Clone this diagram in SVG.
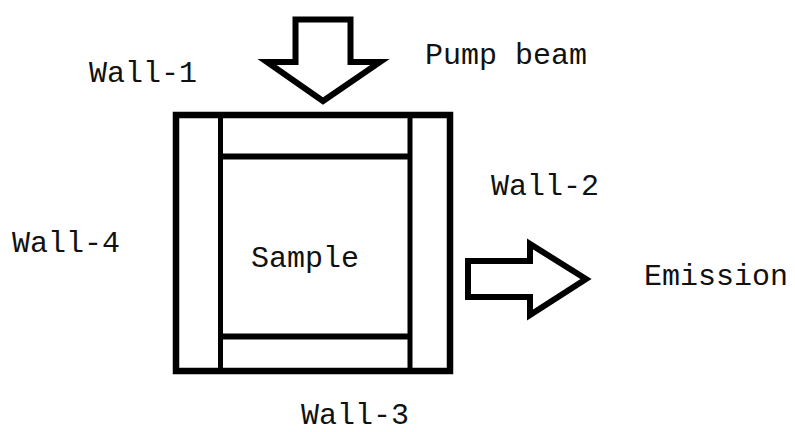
<svg xmlns="http://www.w3.org/2000/svg" width="795" height="432" viewBox="0 0 795 432">
<style>
.ln{fill:none;stroke:#000;stroke-linejoin:miter}
.lb{font-family:"Liberation Mono","Courier New",monospace;font-size:30px;fill:#111}
</style>
<rect width="795" height="432" fill="#fff"/>
<g id="cell">
<rect class="ln" x="176" y="115" width="274" height="256" stroke-width="6.5"/>
<line class="ln" x1="220.5" y1="115" x2="220.5" y2="371" stroke-width="5"/>
<line class="ln" x1="410" y1="115" x2="410" y2="371" stroke-width="5"/>
<line class="ln" x1="220" y1="156.5" x2="410" y2="156.5" stroke-width="6"/>
<line class="ln" x1="220" y1="336.5" x2="410" y2="336.5" stroke-width="6"/>
</g>
<g id="pump-arrow">
<polygon class="ln" stroke-width="6" points="295.5,19.5 350.5,19.5 350.5,62 380,62 323,101 267,62 295.5,62"/>
</g>
<g id="emission-arrow">
<polygon class="ln" stroke-width="6" points="468,261 530,261 530,244 586,279 530,315 530,297 468,297"/>
</g>
<g id="labels">
<text class="lb" x="89" y="82">Wall-1</text>
<text class="lb" x="425" y="64">Pump beam</text>
<text class="lb" x="491" y="195">Wall-2</text>
<text class="lb" x="12" y="252">Wall-4</text>
<text class="lb" x="251" y="267">Sample</text>
<text class="lb" x="644" y="285">Emission</text>
<text class="lb" x="301" y="424">Wall-3</text>
</g>
</svg>
